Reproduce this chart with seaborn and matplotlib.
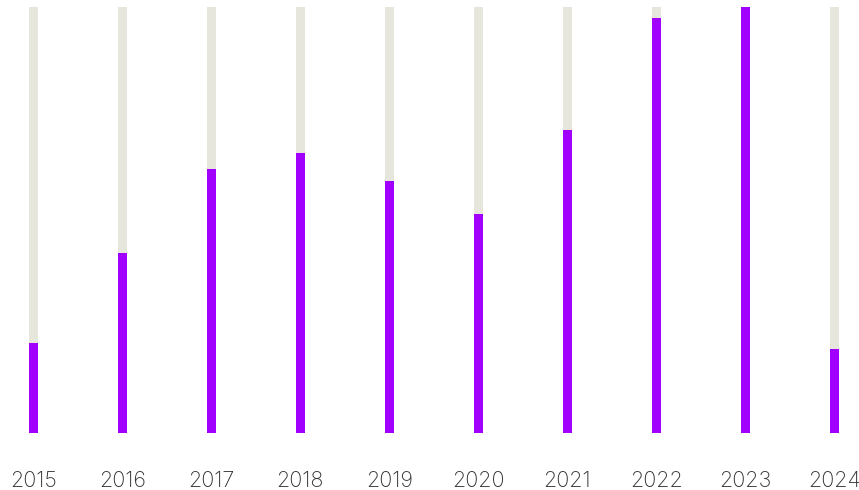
import pandas as pd
import matplotlib
matplotlib.use("Agg")
import matplotlib.pyplot as plt
import seaborn as sns

# values (share of the max, 0-1)
years = ["2015", "2016", "2017", "2018", "2019", "2020", "2021", "2022", "2023", "2024"]
values = [0.211, 0.423, 0.620, 0.657, 0.592, 0.514, 0.711, 0.974, 1.0, 0.197]
track = [1.0] * len(years)

df = pd.DataFrame({"year": years, "value": values, "track": track})

sns.set_style("white")
plt.rcParams["font.family"] = ["Inter", "DejaVu Sans"]

fig = plt.figure(figsize=(8.59, 4.90), dpi=100)
ax = fig.add_axes([0, 57 / 490, 1, 426 / 490])

w = 8.5 / 89
sns.barplot(data=df, x="year", y="track", color="#e6e6dc", width=w, ax=ax,
            saturation=1, linewidth=0)
sns.barplot(data=df, x="year", y="value", color="#a100ff", width=w, ax=ax,
            saturation=1, linewidth=0)

ax.set_xlim(-33.3 / 89, 9 + 24.7 / 89)
ax.set_ylim(0, 1)
ax.set_xlabel("")
ax.set_ylabel("")
ax.set_yticks([])
ax.tick_params(axis="x", length=0, pad=27.5, labelsize=15.5, labelcolor="#333333")
for lbl in ax.get_xticklabels():
    lbl.set_fontweight("light")
sns.despine(ax=ax, left=True, bottom=True)

fig.savefig("out.png", dpi=100)
